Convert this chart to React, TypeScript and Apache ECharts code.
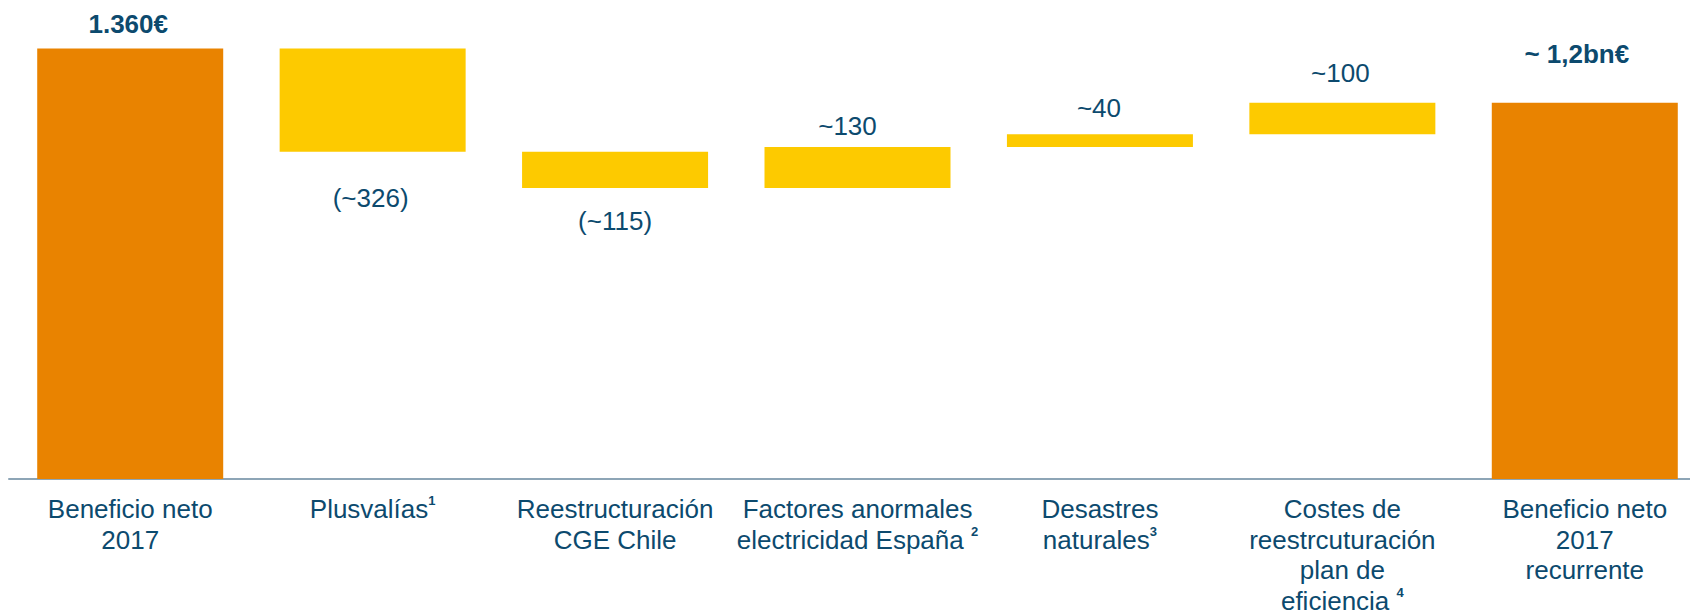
import React, { useEffect, useRef } from "react";
import * as echarts from "echarts";

// Waterfall: net profit 2017 → recurring net profit 2017 (M€)
const categories = [
  "Beneficio neto\n2017",
  "Plusvalías{sup|1}",
  "Reestructuración\nCGE Chile",
  "Factores anormales\nelectricidad España {sup|2}",
  "Desastres\nnaturales{sup|3}",
  "Costes de\nreestrcuturación\nplan de\neficiencia {sup|4}",
  "Beneficio neto\n2017\nrecurrente",
];

// Step values: first is the starting total, the rest are adjustments
const startTotal = 1360;
const adjustments = [-326, -115, 130, 40, 100];
const valueLabels = ["1.360€", "(~326)", "(~115)", "~130", "~40", "~100", "~ 1,2bn€"];

const ORANGE = "#E98300";
const YELLOW = "#FDCA00";
const TEXT = "#0C4A6E";
const AXIS = "#8DA5B6";
const FONT = "'Liberation Sans', Arial, Helvetica, sans-serif";

// label placement per bar: [position, distance, x offset, bold]
const labelPlace: [string, number, number, boolean][] = [
  ["top", 10, -2, true],
  ["bottom", 31, -2, false],
  ["bottom", 18, 0, false],
  ["top", 6, -10, false],
  ["top", 11, -1, false],
  ["top", 15, -2, false],
  ["top", 34, -8, true],
];

export default function App() {
  const ref = useRef<HTMLDivElement>(null);

  useEffect(() => {
    if (!ref.current) return;
    const chart = echarts.init(ref.current, undefined, { renderer: "svg" });

    // build invisible bases and visible heights from the steps
    const bases: number[] = [0];
    const heights: number[] = [startTotal];
    let running = startTotal;
    adjustments.forEach((d) => {
      const next = running + d;
      bases.push(Math.min(running, next));
      heights.push(Math.abs(d));
      running = next;
    });
    bases.push(0);
    heights.push(running);

    const lastIdx = heights.length - 1;
    const visible = heights.map((h, i) => {
      const [pos, dist, dx, bold] = labelPlace[i];
      return {
        value: h,
        itemStyle: { color: i === 0 || i === lastIdx ? ORANGE : YELLOW },
        label: {
          show: true,
          position: pos,
          distance: dist,
          offset: [dx, 0],
          formatter: valueLabels[i],
          fontSize: 26,
          lineHeight: 30,
          fontWeight: bold ? "bold" : "normal",
          color: TEXT,
          fontFamily: FONT,
        },
      };
    });

    chart.setOption({
      animation: false,
      backgroundColor: "#ffffff",
      grid: { left: 9, right: 0, top: 48.5, bottom: 133, containLabel: false },
      xAxis: {
        type: "category",
        data: categories,
        axisLine: { show: true, lineStyle: { color: AXIS, width: 2 } },
        axisTick: { show: false },
        axisLabel: {
          interval: 0,
          margin: 15,
          color: TEXT,
          fontFamily: FONT,
          fontSize: 26,
          lineHeight: 30.5,
          rich: {
            sup: {
              fontSize: 13,
              fontWeight: "bold",
              color: TEXT,
              fontFamily: FONT,
              verticalAlign: "top",
              lineHeight: 30.5,
              padding: [0, 0, 12, 0],
            },
          },
        },
      },
      yAxis: {
        type: "value",
        min: 0,
        max: startTotal,
        show: false,
        splitLine: { show: false },
      },
      series: [
        {
          type: "bar",
          stack: "w",
          data: bases,
          barWidth: 186,
          itemStyle: { color: "transparent" },
          emphasis: { disabled: true },
          silent: true,
        },
        {
          type: "bar",
          stack: "w",
          data: visible,
          barWidth: 186,
          emphasis: { disabled: true },
          silent: true,
        },
      ],
    });

    return () => chart.dispose();
  }, []);

  // the plot runs past the right edge, so the outer box clips it
  return (
    <div
      style={{
        position: "absolute",
        left: 0,
        top: 0,
        width: 1690,
        height: 616,
        overflow: "hidden",
        background: "#fff",
      }}
    >
      <div ref={ref} style={{ width: 1706, height: 616 }} />
    </div>
  );
}
